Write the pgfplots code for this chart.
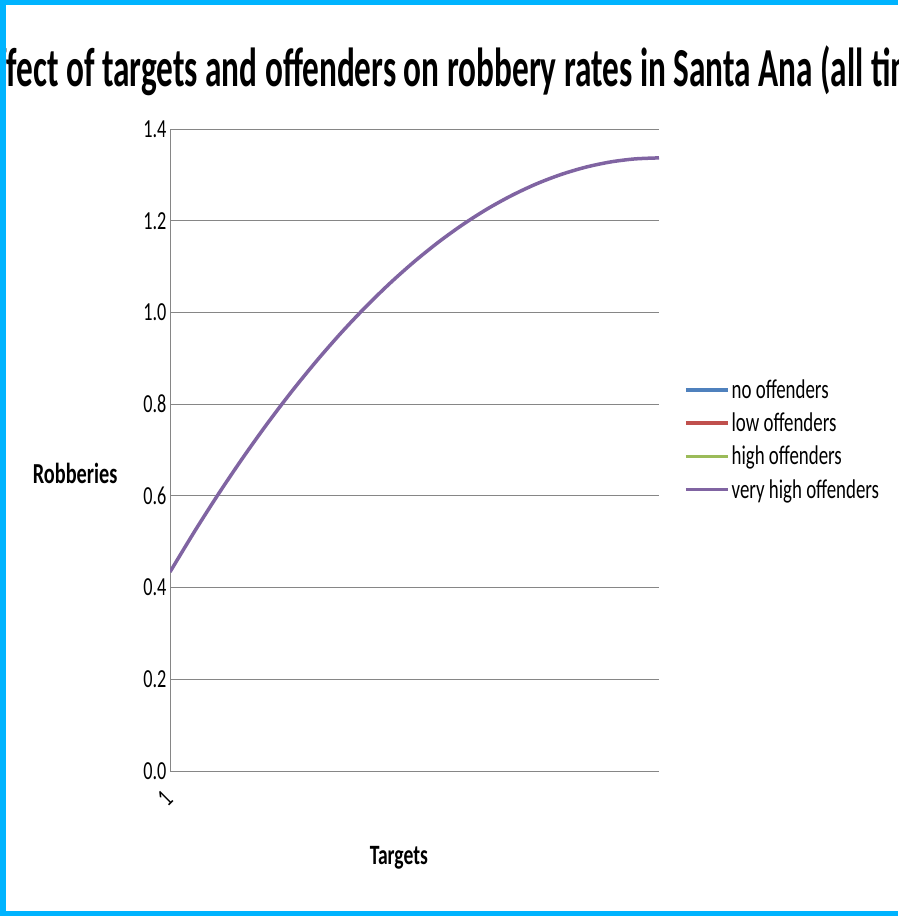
\documentclass[border=0pt]{standalone}
\usepackage{fontspec}
\setmainfont{Carlito}[FakeStretch=0.7]
\newfontfamily\titlefont{Carlito}[FakeStretch=0.605]
\usepackage{pgfplots}
\pgfplotsset{compat=1.18}
\definecolor{framecol}{RGB}{0,180,255}
\definecolor{sblue}{HTML}{4F81BD}
\definecolor{sred}{HTML}{C0504D}
\definecolor{sgreen}{HTML}{9BBB59}
\definecolor{spurple}{HTML}{8064A2}
\definecolor{gridc}{RGB}{134,134,134}
\begin{document}
\begin{tikzpicture}[x=1pt,y=1pt]
\clip (0,0) rectangle (898,916);
\fill[white] (0,0) rectangle (898,916);
\begin{axis}[
  at={(170pt,145pt)}, anchor=south west,
  scale only axis, width=489pt, height=642pt,
  xmin=0, xmax=1, ymin=0, ymax=1.4,
  ytick={0,0.2,0.4,0.6,0.8,1.0,1.2,1.4},
  yticklabel style={/pgf/number format/fixed, /pgf/number format/fixed zerofill, /pgf/number format/precision=1},
  /pgf/number format/assume math mode=true,
  xtick={0}, xticklabels={1},
  x tick label style={xshift=-5pt, yshift=-27pt, rotate=45, anchor=center},
  tick label style={font=\fontsize{26}{26}\selectfont},
  major tick length=0pt,
  ymajorgrids, grid style={gridc, line width=0.8pt},
  axis x line*=bottom, axis y line*=left,
  axis line style={gridc, line width=0.8pt},
  xlabel={\bfseries Targets},
  xlabel style={font=\fontsize{28}{28}\selectfont, at={(rel axis cs:0.468,-0.1355)}, anchor=center},
  ylabel={\bfseries Robberies},
  ylabel style={font=\fontsize{29}{29}\selectfont, rotate=-90, at={(rel axis cs:-0.194,0.463)}, anchor=center},
  legend style={at={(rel axis cs:1.051,0.613)}, anchor=north west, draw=none, fill=none,
    font=\fontsize{27}{27}\selectfont, row sep=9pt, inner sep=0pt},
  legend cell align=left,
  legend image code/.code={\draw[#1, line width=3.5pt] (0pt,0pt) -- (42pt,0pt);},
]
\addlegendimage{sblue}
\addlegendentry{no offenders}
\addlegendimage{sred}
\addlegendentry{low offenders}
\addlegendimage{sgreen}
\addlegendentry{high offenders}
\addplot[spurple, line width=3.5pt, smooth] coordinates {
(0,0.434) (0.05,0.522) (0.1,0.6056) (0.15,0.6846) (0.2,0.7591) (0.25,0.8291)
(0.3,0.8945) (0.35,0.9555) (0.4,1.0119) (0.45,1.0638) (0.5,1.1112) (0.55,1.1541)
(0.6,1.1925) (0.65,1.2264) (0.7,1.2557) (0.75,1.2806) (0.8,1.3009) (0.85,1.3167)
(0.9,1.3280) (0.95,1.3347) (1.0,1.337)};
\addlegendentry{very high offenders}
\end{axis}
\node[anchor=base west, font=\fontsize{55}{55}\selectfont\titlefont\bfseries] at (3,829) {\llap{Ef}fect of targets and offenders on robbery rates in Santa Ana (all times)};
\fill[framecol] (0,911) rectangle (898,916);
\fill[framecol] (0,0) rectangle (6,916);
\fill[framecol] (0,0) rectangle (898,5);
\end{tikzpicture}
\end{document}
